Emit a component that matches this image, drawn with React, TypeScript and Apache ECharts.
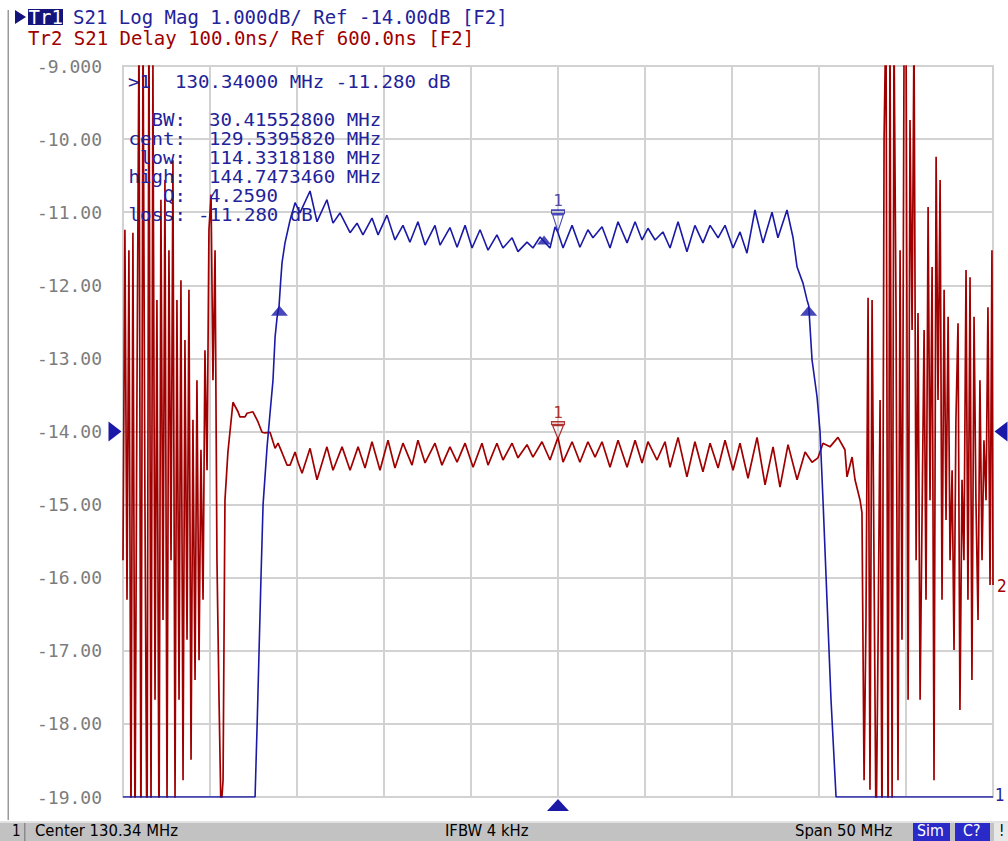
import React, { useEffect, useRef } from "react";
import * as echarts from "echarts";

const CENTER_MHZ = 130.34;

// Tr1: S21 Log Mag [MHz, dB]
const S21_TRACE: [number, number][] = [
  [105.34, -19.0], [112.93, -19.0], [113.05, -18.0], [113.16, -17.0], [113.27, -16.0], [113.39, -15.0],
  [113.62, -14.21], [113.79, -13.75], [113.96, -13.3], [114.08, -12.71], [114.19, -12.45], [114.31, -12.28],
  [114.4, -11.95], [114.48, -11.69], [114.65, -11.42], [114.94, -11.11],
  [115.23, -10.87], [115.51, -11.01], [116.09, -10.71], [116.49, -11.13], [117.06, -10.83], [117.41, -11.15],
  [117.81, -11.01], [118.39, -11.28], [118.79, -11.15], [119.13, -11.31], [119.65, -11.08], [120.0, -11.31],
  [120.51, -11.04], [120.97, -11.38], [121.43, -11.18], [121.83, -11.41], [122.29, -11.13], [122.7, -11.45],
  [123.27, -11.18], [123.56, -11.45], [124.13, -11.21], [124.54, -11.48], [125.0, -11.18], [125.4, -11.49],
  [125.86, -11.24], [126.32, -11.52], [126.83, -11.31], [127.18, -11.49], [127.7, -11.35], [128.04, -11.54],
  [128.56, -11.41], [128.9, -11.49], [129.31, -11.34], [129.54, -11.4], [129.88, -11.49], [130.17, -11.2],
  [130.34, -11.28], [130.63, -11.49], [131.15, -11.18], [131.6, -11.48], [132.06, -11.24], [132.35, -11.35],
  [132.87, -11.2], [133.33, -11.49], [133.79, -11.13], [134.31, -11.42], [134.77, -11.13], [135.17, -11.38],
  [135.51, -11.22], [135.92, -11.38], [136.37, -11.27], [136.78, -11.49], [137.24, -11.13], [137.75, -11.54],
  [138.21, -11.18], [138.67, -11.42], [139.08, -11.18], [139.54, -11.35], [139.94, -11.18], [140.4, -11.49],
  [140.8, -11.27], [141.2, -11.56], [141.66, -10.97], [142.12, -11.42], [142.64, -11.0], [142.98, -11.35],
  [143.5, -10.97], [143.85, -11.35], [144.08, -11.75], [144.42, -11.97], [144.65, -12.2], [144.75, -12.28],
  [144.94, -13.02], [145.23, -13.53], [145.4, -14.0], [145.57, -14.94], [145.8, -16.31], [146.03, -17.67],
  [146.32, -19.0], [155.34, -19.0],
];

// Tr2: S21 Group delay [MHz, ns]
const DELAY_LOW_STOP: [number, number][] = [
  [105.34, 424], [105.45, 876], [105.57, 370], [105.68, 848], [105.8, 60], [105.91, 872], [106.03, 40],
  [106.14, 643], [106.26, 1150], [106.37, 20], [106.49, 1160], [106.6, 506], [106.72, 0], [106.83, 1180],
  [106.95, 70], [107.06, 1108], [107.18, 233], [107.29, 780], [107.41, 30], [107.52, 917], [107.64, 342],
  [107.75, 944], [107.87, 90], [107.98, 848], [108.1, 424], [108.21, 971], [108.33, 96], [108.44, 780],
  [108.56, 233], [108.67, 807], [108.79, 123], [108.9, 725], [109.02, 315], [109.13, 794], [109.25, 151],
  [109.36, 616], [109.48, 260], [109.59, 670], [109.71, 287], [109.82, 575], [109.94, 370], [110.05, 711],
  [110.17, 547], [110.28, 876], [110.4, 924], [110.51, 670], [110.63, 848], [110.74, 424], [110.86, 233],
  [110.97, 80], [111.09, 123],
];
const DELAY_PASS: [number, number][] = [
  [111.2, 506], [111.37, 572], [111.66, 640], [111.95, 627], [112.06, 620], [112.35, 620], [112.47, 625],
  [112.81, 627], [113.1, 613], [113.33, 599], [113.5, 598], [113.79, 599], [114.08, 577], [114.25, 584],
  [114.48, 571], [114.77, 554], [114.94, 554], [115.23, 572], [115.4, 558], [115.63, 543], [116.09, 577],
  [116.49, 534], [117.06, 579], [117.41, 547], [117.93, 579], [118.39, 547], [118.85, 579], [119.25, 550],
  [119.65, 586], [120.11, 547], [120.57, 588], [120.97, 550], [121.43, 584], [121.95, 554], [122.29, 588],
  [122.7, 557], [123.27, 584], [123.67, 554], [124.13, 579], [124.54, 558], [125.0, 584], [125.46, 551],
  [125.97, 584], [126.32, 554], [126.83, 584], [127.18, 561], [127.7, 584], [128.04, 564], [128.56, 582],
  [128.9, 565], [129.42, 586], [129.88, 561], [130.34, 592], [130.63, 558], [131.15, 586], [131.6, 558],
  [132.06, 586], [132.47, 565], [132.87, 586], [133.33, 551], [133.79, 588], [134.31, 551], [134.77, 588],
  [135.17, 557], [135.51, 586], [136.03, 561], [136.49, 586], [136.78, 551], [137.24, 592], [137.75, 538],
  [138.21, 586], [138.67, 545], [139.08, 584], [139.54, 550], [139.94, 588], [140.4, 547], [140.8, 584],
  [141.26, 536], [141.78, 592], [142.24, 527], [142.7, 579], [143.1, 524], [143.56, 582], [144.08, 534],
  [144.54, 572], [144.94, 558], [145.28, 564], [145.57, 584], [145.97, 579], [146.43, 592], [146.83, 575],
  [146.95, 538], [147.24, 565], [147.41, 534], [147.7, 506], [147.81, 489],
];
const DELAY_HIGH_STOP: [number, number][] = [
  [147.93, 123], [148.04, 342], [148.16, 783], [148.27, 110], [148.39, 780], [148.5, 424], [148.62, 40],
  [148.73, 301], [148.85, 643], [148.96, 50], [149.08, 999], [149.19, 1180], [149.31, 20], [149.42, 1160],
  [149.54, 96], [149.65, 1150], [149.77, 753], [149.88, 123], [150.0, 848], [150.11, 315], [150.23, 1140],
  [150.34, 1180], [150.46, 233], [150.57, 1026], [150.69, 739], [150.8, 1150], [150.92, 424], [151.03, 762],
  [151.15, 233], [151.26, 479], [151.38, 739], [151.49, 370], [151.61, 907], [151.72, 506], [151.84, 825],
  [151.95, 123], [152.07, 976], [152.18, 643], [152.3, 944], [152.41, 370], [152.53, 794], [152.64, 479],
  [152.76, 757], [152.87, 424], [152.99, 547], [153.1, 301], [153.21, 616], [153.33, 748], [153.44, 219],
  [153.56, 534], [153.67, 424], [153.79, 821], [153.9, 370], [154.02, 811], [154.13, 260], [154.25, 757],
  [154.36, 506], [154.48, 342], [154.59, 670], [154.71, 424], [154.82, 588], [154.94, 506], [155.05, 770],
  [155.17, 390], [155.28, 848], [155.34, 390],
];

// Marker readouts
const MARKER1_MHZ = 130.34;
const MARKER1_DB = -11.28;
const MARKER1_DELAY_NS = 592;
const BW_LOW_MHZ = 114.331818;
const BW_HIGH_MHZ = 144.747346;
const BW_CENT_MHZ = 129.539582;
const BW_EDGE_DB = -12.28;
const BW_CENT_DB = -11.38;

const Y_TICKS_DB = [-19, -18, -17, -16, -15, -14, -13, -12, -11, -10, -9];

const HEADER1 = "S21 Log Mag 1.000dB/ Ref -14.00dB [F2]";
const HEADER2 = "Tr2 S21 Delay 100.0ns/ Ref 600.0ns [F2]";
const MARKER_LINES: [string, string, number][] = [
  ["BW:", "30.41552800 MHz", 0],
  ["cent:", "129.5395820 MHz", 0],
  ["low:", "114.3318180 MHz", 0],
  ["high:", "144.7473460 MHz", 0],
  ["Q:", "4.2590", 0],
  ["loss:", "-11.280 dB", 1],
];

const BLUE = "#1a1aa6";
const TXT_BLUE = "#22229a";
const RED = "#a00000";
const MONO = '"DejaVu Sans Mono", "Liberation Mono", monospace';
const NARROW = '"DejaVu Sans Condensed", "Liberation Sans Narrow", "Liberation Sans", sans-serif';

const rel = (pts: [number, number][]) => pts.map(([f, v]) => [f - CENTER_MHZ, v]);

export default function App() {
  const ref = useRef<HTMLDivElement>(null);
  useEffect(() => {
    if (!ref.current) return;
    const chart = echarts.init(ref.current, undefined, { renderer: "svg" });
    const delay = rel([...DELAY_LOW_STOP, ...DELAY_PASS, ...DELAY_HIGH_STOP]);
    const mtxt = (text: string, x: number, y: number, align: string = "left") => ({
      type: "text", x, y, z: 10, scaleX: 1.06,
      style: { text, fill: TXT_BLUE, fontSize: 18, lineHeight: 17, fontFamily: MONO, align, verticalAlign: "middle" },
    });
    const stxt = (text: string, x: number, fill: string = "#000", sx: number = 1.1) => ({
      type: "text", x, y: 831, scaleX: sx,
      style: { text, fill, fontSize: 15, lineHeight: 15, fontFamily: NARROW, verticalAlign: "middle" },
    });
    const graphic: any[] = [
      { type: "rect", shape: { x: 7.5, y: 10, width: 1.5, height: 810 }, style: { fill: "#9a9a9a" }, silent: true },
      { type: "polygon", shape: { points: [[15, 10], [15, 24], [26, 17]] }, style: { fill: "#14147a" } },
      { type: "rect", shape: { x: 28, y: 9, width: 35, height: 16 }, style: { fill: "#14147a" } },
      { type: "text", x: 28.5, y: 17, style: { text: "Tr1", fill: "#ffffff", fontSize: 19, fontFamily: MONO, verticalAlign: "middle" } },
      { type: "text", x: 73, y: 17, style: { text: HEADER1, fill: TXT_BLUE, fontSize: 19, fontFamily: MONO, verticalAlign: "middle" } },
      { type: "text", x: 28, y: 38, style: { text: HEADER2, fill: RED, fontSize: 19, fontFamily: MONO, verticalAlign: "middle" } },
      mtxt(">1", 128, 82),
      mtxt("130.34000 MHz -11.280 dB", 175, 82),
      { type: "text", x: 997, y: 586, style: { text: "2", fill: RED, fontSize: 17, fontFamily: NARROW, verticalAlign: "middle" } },
      { type: "text", x: 995, y: 795, style: { text: "1", fill: TXT_BLUE, fontSize: 17, fontFamily: NARROW, verticalAlign: "middle" } },
      // status bar
      { type: "rect", shape: { x: 0, y: 821, width: 1008, height: 20 }, style: { fill: "#c2c2c2" } },
      { type: "rect", shape: { x: 0, y: 821, width: 1008, height: 2 }, style: { fill: "#e2e2e2" } },
      { type: "rect", shape: { x: 24, y: 823, width: 1.5, height: 18 }, style: { fill: "#8a8a8a" } },
      stxt("1", 12, "#000", 1),
      stxt("Center 130.34 MHz", 35),
      stxt("IFBW 4 kHz", 445),
      stxt("Span 50 MHz", 795),
      { type: "rect", shape: { x: 913, y: 823, width: 37, height: 18 }, style: { fill: "#2a2ac8" } },
      stxt("Sim", 917, "#fff", 1.05),
      { type: "rect", shape: { x: 955, y: 823, width: 35, height: 18 }, style: { fill: "#2a2ac8" } },
      stxt("C?", 963, "#fff", 1.05),
      { type: "rect", shape: { x: 994, y: 823, width: 14, height: 18 }, style: { fill: "#e8e8e8" } },
      stxt("!", 999, "#000", 1),
    ];
    MARKER_LINES.forEach(([lab, val, shift], i) => {
      const y = 120 + i * 19;
      graphic.push(mtxt(lab, 186, y, "right"));
      graphic.push(mtxt(val, shift ? 198 : 209, y));
    });

    const markerSym = "path://M0,0L12,0L12,3L0,3Z M1,4L11,4L6,19Z";
    chart.setOption({
      animation: false,
      backgroundColor: "#ffffff",
      grid: { left: 123, right: 15, top: 66, bottom: 44, show: true, borderColor: "#a4a4a4", borderWidth: 1.5, backgroundColor: "#ffffff" },
      xAxis: {
        type: "value", min: -25, max: 25, interval: 5,
        axisLabel: { show: false }, axisTick: { show: false }, axisLine: { show: false },
        splitLine: { show: true, lineStyle: { color: "#d2d2d2", width: 2 } },
      },
      yAxis: [
        {
          type: "value", min: Y_TICKS_DB[0], max: Y_TICKS_DB[Y_TICKS_DB.length - 1], interval: 1,
          axisLine: { show: false }, axisTick: { show: false },
          axisLabel: {
            margin: 21, color: "#7c7c7c", fontSize: 18, fontFamily: MONO,
            formatter: (v: number) => (v === -9 ? "-9.000" : v.toFixed(2)),
          },
          splitLine: { show: true, lineStyle: { color: "#d2d2d2", width: 2 } },
        },
        { type: "value", min: 100, max: 1100, show: false, splitLine: { show: false } },
      ],
      graphic,
      series: [
        {
          type: "line", name: "Tr2 Delay", yAxisIndex: 1, data: delay, showSymbol: false, symbol: "none",
          lineStyle: { color: RED, width: 1.7 }, clip: true, z: 2,
        },
        {
          type: "line", name: "Tr1 LogMag", data: rel(S21_TRACE), showSymbol: false, symbol: "none",
          lineStyle: { color: BLUE, width: 1.6 }, clip: true, z: 3,
          markPoint: {
            silent: true,
            label: { show: false },
            data: [
              { coord: [-25, -14], symbol: "triangle", symbolSize: [20, 13], symbolRotate: -90, symbolOffset: [-8, 0], itemStyle: { color: BLUE } },
              { coord: [25, -14], symbol: "triangle", symbolSize: [20, 13], symbolRotate: 90, symbolOffset: [8, 0], itemStyle: { color: BLUE } },
              { coord: [0, -19], symbol: "triangle", symbolSize: [22, 12], symbolOffset: [0, 8], itemStyle: { color: BLUE } },
            ],
          },
        },
        {
          type: "scatter", name: "BW markers", z: 4,
          data: [
            [BW_LOW_MHZ - CENTER_MHZ, BW_EDGE_DB],
            [BW_HIGH_MHZ - CENTER_MHZ, BW_EDGE_DB],
          ],
          symbol: "triangle", symbolSize: [17, 10], symbolOffset: [0, 5], itemStyle: { color: BLUE },
        },
        {
          type: "scatter", name: "cent marker", z: 4,
          data: [[BW_CENT_MHZ - CENTER_MHZ, BW_CENT_DB]],
          symbol: "triangle", symbolSize: [14, 9], symbolOffset: [0, 0], itemStyle: { color: BLUE },
        },
        {
          type: "scatter", name: "marker 1", z: 5,
          data: [[MARKER1_MHZ - CENTER_MHZ, MARKER1_DB]],
          symbol: markerSym, symbolSize: [13, 21], symbolOffset: [0, -12],
          itemStyle: { color: "rgba(255,255,255,0)", borderColor: BLUE, borderWidth: 1.3 },
          label: { show: true, position: "top", distance: 1, formatter: "1", color: TXT_BLUE, fontSize: 16, fontFamily: MONO },
        },
        {
          type: "scatter", name: "marker 1 delay", yAxisIndex: 1, z: 5,
          data: [[MARKER1_MHZ - CENTER_MHZ, MARKER1_DELAY_NS]],
          symbol: markerSym, symbolSize: [13, 17], symbolOffset: [0, -7],
          itemStyle: { color: "rgba(255,255,255,0)", borderColor: RED, borderWidth: 1.3 },
          label: { show: true, position: "top", distance: 1, formatter: "1", color: RED, fontSize: 16, fontFamily: MONO },
        },
      ],
    });
    return () => chart.dispose();
  }, []);
  return <div ref={ref} style={{ position: "absolute", left: 0, top: 0, width: 1008, height: 841 }} />;
}
